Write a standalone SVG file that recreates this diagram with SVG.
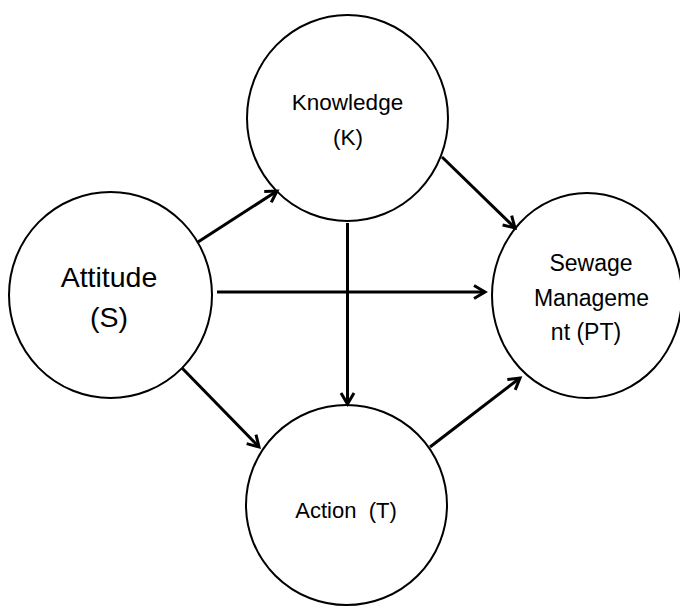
<svg xmlns="http://www.w3.org/2000/svg" width="680" height="606" viewBox="0 0 680 606">
<style>
.node{fill:#fff;stroke:#000;stroke-width:2}
.lbl{font-family:"Liberation Sans",Arial,sans-serif;fill:#000;text-anchor:middle;white-space:pre}
.conn{stroke:#000;stroke-width:3;fill:none}
</style>
<defs>
<marker id="arr" markerUnits="userSpaceOnUse" markerWidth="18" markerHeight="18" viewBox="0 0 18 18" refX="14" refY="9" orient="auto">
<path d="M3,2.5 L14,9 L3,15.5" fill="none" stroke="#000" stroke-width="3"/>
</marker>
</defs>
<rect width="680" height="606" fill="#fff"/>
<g id="knowledge">
<ellipse class="node" cx="347.5" cy="118" rx="100.5" ry="103"/>
<text class="lbl" x="347.5" y="110" font-size="22.5">Knowledge</text>
<text class="lbl" x="348" y="145" font-size="22.5">(K)</text>
</g>
<g id="attitude">
<ellipse class="node" cx="110.5" cy="295" rx="101.5" ry="103"/>
<text class="lbl" x="109" y="287" font-size="28.5">Attitude</text>
<text class="lbl" x="109" y="327" font-size="28.5">(S)</text>
</g>
<g id="sewage">
<ellipse class="node" cx="587" cy="295.5" rx="95" ry="102.5"/>
<text class="lbl" x="591" y="271" font-size="23">Sewage</text>
<text class="lbl" x="591.5" y="306" font-size="23">Manageme</text>
<text class="lbl" x="586" y="340" font-size="23">nt (PT)</text>
</g>
<g id="action">
<ellipse class="node" cx="346.5" cy="505" rx="100.5" ry="100"/>
<text class="lbl" x="346" y="518" font-size="22">Action  (T)</text>
</g>
<g id="connectors">
<line class="conn" x1="198" y1="242" x2="277" y2="191" marker-end="url(#arr)"/>
<line class="conn" x1="217" y1="292" x2="485" y2="292" marker-end="url(#arr)"/>
<line class="conn" x1="347.5" y1="223" x2="347.5" y2="404" marker-end="url(#arr)"/>
<line class="conn" x1="442" y1="157" x2="515" y2="228" marker-end="url(#arr)"/>
<line class="conn" x1="182" y1="368" x2="259" y2="447" marker-end="url(#arr)"/>
<line class="conn" x1="430" y1="447" x2="520" y2="378" marker-end="url(#arr)"/>
</g>
</svg>
